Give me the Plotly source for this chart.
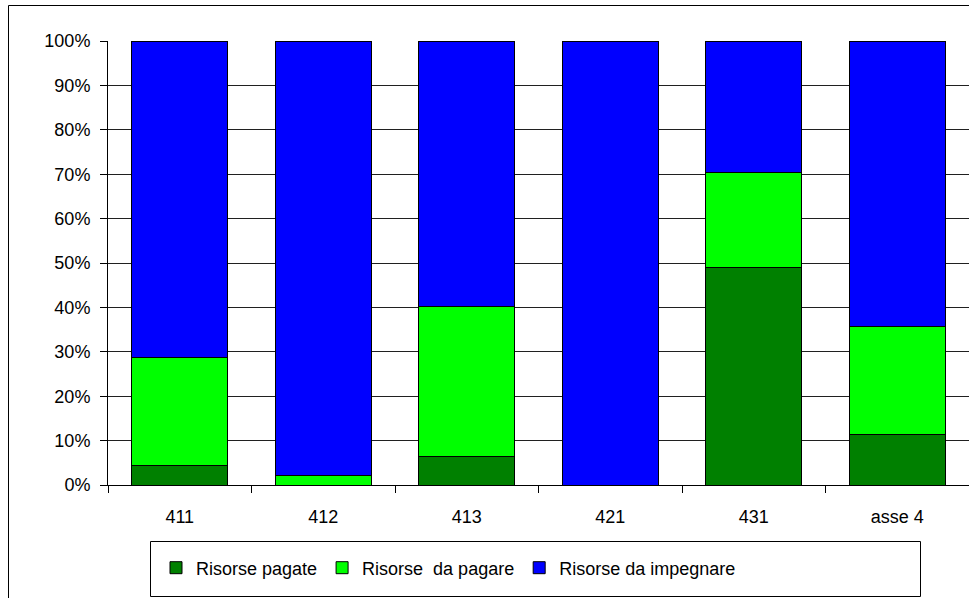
import plotly.graph_objects as go

# Resource status per measure, as a share of the total (%)
categories = ["411", "412", "413", "421", "431", "asse 4"]
pagate = [4.5, 0.0, 6.5, 0.0, 49.0, 11.4]
da_pagare = [24.3, 2.2, 33.8, 0.0, 21.3, 24.3]
da_impegnare = [71.2, 97.8, 59.7, 100.0, 29.7, 64.3]

series_names = ["Risorse pagate", "Risorse\u00a0 da pagare", "Risorse da impegnare"]
series_colors = ["#008000", "#00FF00", "#0000FF"]
y_ticks = list(range(0, 101, 10))
y_tick_labels = [f"{v}%" for v in y_ticks]

W, H = 969, 598
M_L, M_R, M_T, M_B = 108, 0, 41, 113
plot_w = W - M_L - M_R
plot_h = H - M_T - M_B


def px_x(px):
    return (px - M_L) / plot_w


def px_y(py):
    return (H - M_B - py) / plot_h


fig = go.Figure()
for name, vals, color in zip(series_names, [pagate, da_pagare, da_impegnare], series_colors):
    fig.add_trace(go.Bar(
        x=categories, y=vals, name=name,
        marker=dict(color=color, line=dict(color="black", width=1)),
    ))

font = dict(family="Liberation Sans, Arial, sans-serif", size=18, color="black")

fig.update_layout(
    width=W, height=H,
    margin=dict(l=M_L, r=M_R, t=M_T, b=M_B, pad=0),
    barmode="stack", bargap=0.33,
    plot_bgcolor="white", paper_bgcolor="white",
    font=font,
    showlegend=True,
    legend=dict(
        orientation="h", x=px_x(156), xanchor="left",
        y=px_y(568), yanchor="middle",
        bgcolor="rgba(0,0,0,0)", borderwidth=0,
        font=font, traceorder="normal",
    ),
    xaxis=dict(
        showline=True, linecolor="black", linewidth=1,
        ticks="outside", ticklen=7, tickcolor="black", tickson="boundaries",
        showgrid=False, tickfont=font, ticklabelstandoff=15,
    ),
    yaxis=dict(
        range=[0, 100], tickmode="array", tickvals=y_ticks, ticktext=y_tick_labels,
        showline=True, linecolor="black", linewidth=1,
        ticks="outside", ticklen=7, tickcolor="black",
        showgrid=True, gridcolor="#202020", gridwidth=1,
        zeroline=False, tickfont=font, ticklabelstandoff=6,
    ),
    shapes=[
        # outer chart frame
        dict(type="rect", xref="paper", yref="paper",
             x0=px_x(8.5), x1=px_x(990), y0=px_y(620), y1=px_y(5.5),
             line=dict(color="black", width=1), fillcolor="rgba(0,0,0,0)", layer="below"),
        # legend frame
        dict(type="rect", xref="paper", yref="paper",
             x0=px_x(150.5), x1=px_x(920.5), y0=px_y(596.5), y1=px_y(541.5),
             line=dict(color="black", width=1), fillcolor="rgba(0,0,0,0)"),
    ],
)

fig.write_html("out.html")
